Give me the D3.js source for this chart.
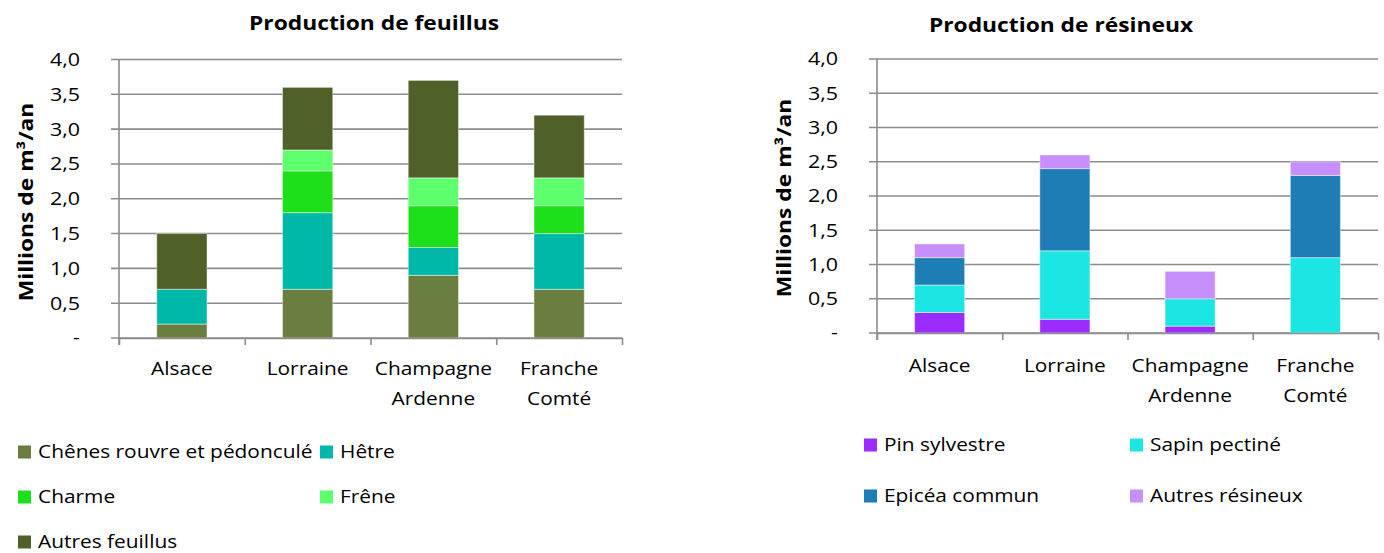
<!DOCTYPE html>
<html>
<head>
<meta charset="utf-8">
<script src="https://cdn.jsdelivr.net/npm/d3@7"></script>
<style>
  html, body { margin: 0; padding: 0; background: #fff; }
  svg { display: block; font-family: "Open Sans", sans-serif; }
</style>
</head>
<body>
<svg id="chart" width="1384" height="553"></svg>
<script>
// ---- Data ----
const regions = [["Alsace"], ["Lorraine"], ["Champagne", "Ardenne"], ["Franche", "Comté"]];
const regionKeys = ["Alsace", "Lorraine", "Champagne Ardenne", "Franche Comté"];

const feuillusSeries = ["Chênes rouvre et pédonculé", "Hêtre", "Charme", "Frêne", "Autres feuillus"];
const feuillusColors = ["#6a7f3f", "#00b8a8", "#1ee01a", "#5eff6c", "#4f6129"];
const chenes = [0.2, 0.7, 0.9, 0.7];
const hetre = [0.5, 1.1, 0.4, 0.8];
const charme = [0.0, 0.6, 0.6, 0.4];
const frene = [0.0, 0.3, 0.4, 0.4];
const autresFeuillus = [0.8, 0.9, 1.4, 0.9];

const resineuxSeries = ["Pin sylvestre", "Sapin pectiné", "Epicéa commun", "Autres résineux"];
const resineuxColors = ["#9b2cff", "#1ce6e3", "#1f7db5", "#c78ffb"];
const pin = [0.3, 0.2, 0.1, 0.0];
const sapin = [0.4, 1.0, 0.4, 1.1];
const epicea = [0.4, 1.2, 0.0, 1.2];
const autresResineux = [0.2, 0.2, 0.4, 0.2];

const yTicks = [0, 0.5, 1.0, 1.5, 2.0, 2.5, 3.0, 3.5, 4.0];

// ---- Helpers ----
const svg = d3.select("#chart");
const fr = d3.formatLocale({decimal: ",", thousands: " ", grouping: [3], currency: ["", "€"]});
const fmt = v => v === 0 ? "-" : fr.format(".1f")(v);
const gridColor = "#8c8c8c";
const SX = 1.16;   // horizontal stretch of regular text (reference font is wide)
const SXB = 1.2;   // horizontal stretch of bold text

function stretchedText(parent, x, y, str, opts) {
  const t = parent.append("text")
    .attr("transform", `translate(${x},${y})${opts.rotate ? " rotate(-90)" : ""} scale(${opts.sx},1)`)
    .attr("text-anchor", opts.anchor || "start")
    .attr("font-size", opts.size)
    .attr("font-weight", opts.bold ? "bold" : null)
    .attr("fill", "#000")
    .text(str);
  if (opts.dy) t.attr("dy", opts.dy);
  return t;
}

function drawChart(cfg) {
  const g = svg.append("g");
  const x = d3.scaleBand().domain(regionKeys).range([cfg.x0, cfg.x1]).paddingInner(0.6).paddingOuter(0.3);
  const y = d3.scaleLinear().domain([0, 4]).range([cfg.yBottom, cfg.yTop]);

  // gridlines (including zero line), extended left by tick length
  g.append("g").selectAll("line").data(yTicks).join("line")
    .attr("x1", cfg.x0 - 8).attr("x2", cfg.x1)
    .attr("y1", d => y(d)).attr("y2", d => y(d))
    .attr("stroke", gridColor).attr("stroke-width", 1.6);

  // y labels
  const yAxis = d3.axisLeft(y).tickValues(yTicks).tickFormat(fmt).tickSize(0).tickPadding(39);
  const ya = g.append("g").attr("transform", `translate(${cfg.x0},0)`).call(yAxis);
  ya.select(".domain").remove();
  ya.selectAll(".tick text")
    .attr("font-family", "Open Sans").attr("font-size", 18.5).attr("fill", "#000")
    .attr("transform", function() { return `translate(${this.getAttribute("x")},0) scale(${SX},1)`; })
    .attr("x", 0);

  // stacked bars
  const table = regionKeys.map((k, i) => {
    const o = {region: k};
    cfg.series.forEach((s, j) => o[s] = cfg.values[j][i]);
    return o;
  });
  const stack = d3.stack().keys(cfg.series)(table);
  const color = d3.scaleOrdinal().domain(cfg.series).range(cfg.colors);
  g.append("g").selectAll("g").data(stack).join("g")
    .attr("fill", d => color(d.key))
    .selectAll("rect").data(d => d.filter(p => p[1] - p[0] > 0)).join("rect")
    .attr("x", d => x(d.data.region))
    .attr("width", x.bandwidth())
    .attr("y", d => y(d[1]))
    .attr("height", d => y(d[0]) - y(d[1]))
    .attr("stroke", "rgba(255,255,255,0.45)")
    .attr("stroke-width", 1);

  // y axis line
  g.append("line").attr("x1", cfg.x0).attr("x2", cfg.x0)
    .attr("y1", cfg.yTop).attr("y2", cfg.yBottom + 7)
    .attr("stroke", gridColor).attr("stroke-width", 1.6);

  // x axis with ticks between categories
  const xb = d3.scaleLinear().domain([0, regionKeys.length]).range([cfg.x0, cfg.x1]);
  const xa = g.append("g").attr("transform", `translate(0,${cfg.yBottom})`)
    .call(d3.axisBottom(xb).ticks(regionKeys.length).tickFormat("").tickSizeInner(7).tickSizeOuter(0));
  xa.select(".domain").attr("stroke", gridColor).attr("stroke-width", 1.6);
  xa.selectAll(".tick line").attr("stroke", gridColor).attr("stroke-width", 1.6);

  // category labels
  const labG = g.append("g");
  regions.forEach((lines, i) => {
    const cx = x(regionKeys[i]) + x.bandwidth() / 2;
    lines.forEach((ln, j) => {
      stretchedText(labG, cx, cfg.yBottom + cfg.labelOffset + j * 30, ln,
        {sx: SX, size: 18, anchor: "middle"});
    });
  });

  // title
  stretchedText(g, cfg.titleX, cfg.titleY, cfg.title, {sx: SXB, size: 19, bold: true, anchor: "middle"});

  // y axis title
  stretchedText(g, cfg.yTitleX, cfg.yTitleY, "Millions de m³/an",
    {sx: SXB, size: 19, bold: true, anchor: "middle", rotate: true});

  // legend
  const leg = g.append("g").selectAll("g").data(cfg.series).join("g")
    .attr("transform", (d, i) => `translate(${cfg.legCols[i % 2]},${cfg.legRows[Math.floor(i / 2)]})`);
  leg.append("rect").attr("x", 0).attr("y", -6.5).attr("width", 13).attr("height", 13)
    .attr("fill", d => color(d));
  leg.each(function(d) {
    stretchedText(d3.select(this), 20, 0, d, {sx: SX, size: 18, dy: "0.35em"});
  });
}

drawChart({
  x0: 119, x1: 622, yTop: 59.5, yBottom: 338,
  series: feuillusSeries, colors: feuillusColors,
  values: [chenes, hetre, charme, frene, autresFeuillus],
  title: "Production de feuillus", titleX: 374, titleY: 30,
  yTitleX: 33, yTitleY: 202,
  labelOffset: 37,
  legCols: [18, 320], legRows: [452, 497, 542]
});

drawChart({
  x0: 877, x1: 1378, yTop: 59, yBottom: 333,
  series: resineuxSeries, colors: resineuxColors,
  values: [pin, sapin, epicea, autresResineux],
  title: "Production de résineux", titleX: 1061, titleY: 32,
  yTitleX: 791, yTitleY: 198,
  labelOffset: 39,
  legCols: [864, 1130], legRows: [445, 496]
});
</script>
</body>
</html>
